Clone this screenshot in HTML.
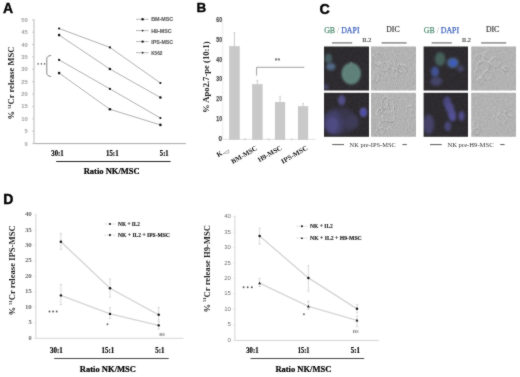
<!DOCTYPE html>
<html><head><meta charset="utf-8"><style>
html,body{margin:0;padding:0;background:#fff;}
body{width:520px;height:377px;overflow:hidden;}
svg{display:block;will-change:transform;}
</style></head><body>
<svg width="520" height="377" viewBox="0 0 520 377">
<filter id="soft" x="0" y="0" width="520" height="377" filterUnits="userSpaceOnUse" color-interpolation-filters="sRGB"><feConvolveMatrix order="3" kernelMatrix="1 2 1 2 20 2 1 2 1" divisor="32" edgeMode="duplicate"/></filter>
<g filter="url(#soft)">
<rect width="520" height="377" fill="#fff"/>
<text x="3.0" y="12.9" font-family="Liberation Sans" font-weight="bold" font-size="14" fill="#000" text-anchor="start" stroke="#000" stroke-width="0.35">A</text>
<line x1="34.0" y1="19.3" x2="34.0" y2="143.6" stroke="#c4c4c4" stroke-width="1.2"/>
<line x1="32.0" y1="143.6" x2="34.0" y2="143.6" stroke="#bbb" stroke-width="0.7"/>
<text x="27.9" y="145.6" font-family="Liberation Sans" font-weight="bold" font-size="5.8" fill="#a0a0a0" text-anchor="end" textLength="3.3" lengthAdjust="spacingAndGlyphs" >0</text>
<line x1="32.0" y1="131.22" x2="34.0" y2="131.22" stroke="#bbb" stroke-width="0.7"/>
<text x="27.9" y="133.22" font-family="Liberation Sans" font-weight="bold" font-size="5.8" fill="#a0a0a0" text-anchor="end" textLength="3.3" lengthAdjust="spacingAndGlyphs" >5</text>
<line x1="32.0" y1="118.84" x2="34.0" y2="118.84" stroke="#bbb" stroke-width="0.7"/>
<text x="27.9" y="120.84" font-family="Liberation Sans" font-weight="bold" font-size="5.8" fill="#a0a0a0" text-anchor="end" textLength="6.6" lengthAdjust="spacingAndGlyphs" >10</text>
<line x1="32.0" y1="106.46" x2="34.0" y2="106.46" stroke="#bbb" stroke-width="0.7"/>
<text x="27.9" y="108.46" font-family="Liberation Sans" font-weight="bold" font-size="5.8" fill="#a0a0a0" text-anchor="end" textLength="6.6" lengthAdjust="spacingAndGlyphs" >15</text>
<line x1="32.0" y1="94.08" x2="34.0" y2="94.08" stroke="#bbb" stroke-width="0.7"/>
<text x="27.9" y="96.08" font-family="Liberation Sans" font-weight="bold" font-size="5.8" fill="#a0a0a0" text-anchor="end" textLength="6.6" lengthAdjust="spacingAndGlyphs" >20</text>
<line x1="32.0" y1="81.69999999999999" x2="34.0" y2="81.69999999999999" stroke="#bbb" stroke-width="0.7"/>
<text x="27.9" y="83.69999999999999" font-family="Liberation Sans" font-weight="bold" font-size="5.8" fill="#a0a0a0" text-anchor="end" textLength="6.6" lengthAdjust="spacingAndGlyphs" >25</text>
<line x1="32.0" y1="69.32" x2="34.0" y2="69.32" stroke="#bbb" stroke-width="0.7"/>
<text x="27.9" y="71.32" font-family="Liberation Sans" font-weight="bold" font-size="5.8" fill="#a0a0a0" text-anchor="end" textLength="6.6" lengthAdjust="spacingAndGlyphs" >30</text>
<line x1="32.0" y1="56.94" x2="34.0" y2="56.94" stroke="#bbb" stroke-width="0.7"/>
<text x="27.9" y="58.94" font-family="Liberation Sans" font-weight="bold" font-size="5.8" fill="#a0a0a0" text-anchor="end" textLength="6.6" lengthAdjust="spacingAndGlyphs" >35</text>
<line x1="32.0" y1="44.56" x2="34.0" y2="44.56" stroke="#bbb" stroke-width="0.7"/>
<text x="27.9" y="46.56" font-family="Liberation Sans" font-weight="bold" font-size="5.8" fill="#a0a0a0" text-anchor="end" textLength="6.6" lengthAdjust="spacingAndGlyphs" >40</text>
<line x1="32.0" y1="32.17999999999999" x2="34.0" y2="32.17999999999999" stroke="#bbb" stroke-width="0.7"/>
<text x="27.9" y="34.17999999999999" font-family="Liberation Sans" font-weight="bold" font-size="5.8" fill="#a0a0a0" text-anchor="end" textLength="6.6" lengthAdjust="spacingAndGlyphs" >45</text>
<line x1="32.0" y1="19.799999999999997" x2="34.0" y2="19.799999999999997" stroke="#bbb" stroke-width="0.7"/>
<text x="27.9" y="21.799999999999997" font-family="Liberation Sans" font-weight="bold" font-size="5.8" fill="#a0a0a0" text-anchor="end" textLength="6.6" lengthAdjust="spacingAndGlyphs" >50</text>
<line x1="34.0" y1="143.6" x2="186" y2="143.6" stroke="#a8a8a8" stroke-width="1.0"/>
<polyline points="59.1,28.5 109.9,47.4 160.4,83.0" fill="none" stroke="#858585" stroke-width="0.65"/>
<polyline points="59.1,35.1 109.9,69.05 160.4,97.5" fill="none" stroke="#858585" stroke-width="0.65"/>
<polyline points="59.1,59.9 109.9,88.9 160.4,118.0" fill="none" stroke="#858585" stroke-width="0.65"/>
<polyline points="59.1,73.1 109.9,109.3 160.4,124.9" fill="none" stroke="#858585" stroke-width="0.65"/>
<circle cx="59.1" cy="28.5" r="1.1" fill="#111"/>
<circle cx="109.9" cy="47.4" r="1.1" fill="#111"/>
<circle cx="160.4" cy="83.0" r="1.1" fill="#111"/>
<circle cx="59.1" cy="35.1" r="1.3" fill="#111"/>
<circle cx="109.9" cy="69.05" r="1.3" fill="#111"/>
<circle cx="160.4" cy="97.5" r="1.3" fill="#111"/>
<circle cx="59.1" cy="59.9" r="1.1" fill="#111"/>
<circle cx="109.9" cy="88.9" r="1.1" fill="#111"/>
<circle cx="160.4" cy="118.0" r="1.1" fill="#111"/>
<circle cx="59.1" cy="73.1" r="1.3" fill="#111"/>
<circle cx="109.9" cy="109.3" r="1.3" fill="#111"/>
<circle cx="160.4" cy="124.9" r="1.3" fill="#111"/>
<circle cx="38.1" cy="63.9" r="0.8" fill="#606060"/>
<circle cx="41.4" cy="63.9" r="0.8" fill="#606060"/>
<circle cx="44.6" cy="63.9" r="0.8" fill="#606060"/>
<path d="M51.2,55.5 Q46.8,55.6 46.8,59 L46.8,73 Q46.8,76.3 51.2,76.4" fill="none" stroke="#707070" stroke-width="0.85"/>
<line x1="136" y1="19.3" x2="148.6" y2="19.3" stroke="#888" stroke-width="0.6"/>
<circle cx="142.6" cy="19.3" r="1.2" fill="#111"/>
<text x="151.2" y="21.2" font-family="Liberation Sans" font-weight="bold" font-size="5.3" fill="#5a5a5a" text-anchor="start" textLength="22" lengthAdjust="spacingAndGlyphs" stroke="#5a5a5a" stroke-width="0.12">BM-MSC</text>
<line x1="136" y1="30.6" x2="148.6" y2="30.6" stroke="#888" stroke-width="0.6"/>
<circle cx="142.6" cy="30.6" r="0.9" fill="#111"/>
<text x="151.2" y="32.5" font-family="Liberation Sans" font-weight="bold" font-size="5.3" fill="#5a5a5a" text-anchor="start" textLength="20.5" lengthAdjust="spacingAndGlyphs" stroke="#5a5a5a" stroke-width="0.12">H9-MSC</text>
<line x1="136" y1="41.6" x2="148.6" y2="41.6" stroke="#888" stroke-width="0.6"/>
<circle cx="142.6" cy="41.6" r="1.2" fill="#111"/>
<text x="151.2" y="43.5" font-family="Liberation Sans" font-weight="bold" font-size="5.3" fill="#5a5a5a" text-anchor="start" textLength="22" lengthAdjust="spacingAndGlyphs" stroke="#5a5a5a" stroke-width="0.12">IPS-MSC</text>
<line x1="136" y1="52.7" x2="148.6" y2="52.7" stroke="#888" stroke-width="0.6"/>
<circle cx="142.6" cy="52.7" r="0.9" fill="#111"/>
<text x="151.2" y="54.6" font-family="Liberation Sans" font-weight="bold" font-size="5.3" fill="#5a5a5a" text-anchor="start" textLength="11.3" lengthAdjust="spacingAndGlyphs" stroke="#5a5a5a" stroke-width="0.12">K562</text>
<text x="51.3" y="155.7" font-family="Liberation Serif" font-weight="bold" font-size="7.8" fill="#000" text-anchor="start" textLength="12.4" lengthAdjust="spacingAndGlyphs" stroke="#000" stroke-width="0.2">30:1</text>
<text x="106.0" y="155.7" font-family="Liberation Serif" font-weight="bold" font-size="7.8" fill="#000" text-anchor="start" textLength="12.6" lengthAdjust="spacingAndGlyphs" stroke="#000" stroke-width="0.2">15:1</text>
<text x="159.8" y="155.7" font-family="Liberation Serif" font-weight="bold" font-size="7.8" fill="#000" text-anchor="start" textLength="8.9" lengthAdjust="spacingAndGlyphs" stroke="#000" stroke-width="0.2">5:1</text>
<line x1="56.2" y1="161.5" x2="170.6" y2="161.5" stroke="#222" stroke-width="1.0"/>
<text x="83.7" y="174.0" font-family="Liberation Serif" font-weight="bold" font-size="8.5" fill="#000" text-anchor="start" textLength="56" lengthAdjust="spacingAndGlyphs" stroke="#000" stroke-width="0.2">Ratio NK/MSC</text>
<text x="0" y="0" font-family="Liberation Serif" font-weight="bold" font-size="8.6" fill="#1a1a1a" text-anchor="middle" transform="translate(14.3,83.0) rotate(-90)" textLength="73" lengthAdjust="spacingAndGlyphs">% <tspan font-size="4.4" dy="-3.4">51</tspan><tspan dy="3.4">Cr release MSC</tspan></text>
<text x="196.5" y="12.0" font-family="Liberation Sans" font-weight="bold" font-size="13.5" fill="#000" text-anchor="start" stroke="#000" stroke-width="0.35">B</text>
<line x1="222.8" y1="19" x2="222.8" y2="139.3" stroke="#ececec" stroke-width="1.0"/>
<text x="222.0" y="140.70000000000002" font-family="Liberation Sans" font-weight="bold" font-size="7.6" fill="#505050" text-anchor="end" textLength="3.6" lengthAdjust="spacingAndGlyphs" stroke="#505050" stroke-width="0.25">0</text>
<text x="222.0" y="120.95000000000002" font-family="Liberation Sans" font-weight="bold" font-size="7.6" fill="#505050" text-anchor="end" textLength="5.7" lengthAdjust="spacingAndGlyphs" stroke="#505050" stroke-width="0.25">10</text>
<text x="222.0" y="101.20000000000002" font-family="Liberation Sans" font-weight="bold" font-size="7.6" fill="#505050" text-anchor="end" textLength="5.7" lengthAdjust="spacingAndGlyphs" stroke="#505050" stroke-width="0.25">20</text>
<text x="222.0" y="81.45000000000002" font-family="Liberation Sans" font-weight="bold" font-size="7.6" fill="#505050" text-anchor="end" textLength="5.7" lengthAdjust="spacingAndGlyphs" stroke="#505050" stroke-width="0.25">30</text>
<text x="222.0" y="61.70000000000001" font-family="Liberation Sans" font-weight="bold" font-size="7.6" fill="#505050" text-anchor="end" textLength="5.7" lengthAdjust="spacingAndGlyphs" stroke="#505050" stroke-width="0.25">40</text>
<text x="222.0" y="41.95000000000001" font-family="Liberation Sans" font-weight="bold" font-size="7.6" fill="#505050" text-anchor="end" textLength="5.7" lengthAdjust="spacingAndGlyphs" stroke="#505050" stroke-width="0.25">50</text>
<text x="222.0" y="22.20000000000001" font-family="Liberation Sans" font-weight="bold" font-size="7.6" fill="#505050" text-anchor="end" textLength="5.7" lengthAdjust="spacingAndGlyphs" stroke="#505050" stroke-width="0.25">60</text>
<line x1="222.8" y1="139.3" x2="315.5" y2="139.3" stroke="#e2e2e2" stroke-width="1.0"/>
<rect x="229.6" y="46.5" width="9.7" height="92.80000000000001" fill="#c9c9c9" stroke="#bcbcbc" stroke-width="0.5"/>
<line x1="234.45" y1="32.5" x2="234.45" y2="46.5" stroke="#b4b4b4" stroke-width="0.7"/>
<line x1="233.5" y1="32.5" x2="235.4" y2="32.5" stroke="#c0c0c0" stroke-width="0.6"/>
<rect x="252.5" y="84.6" width="9.7" height="54.70000000000002" fill="#c9c9c9" stroke="#bcbcbc" stroke-width="0.5"/>
<line x1="257.35" y1="80.4" x2="257.35" y2="84.6" stroke="#b4b4b4" stroke-width="0.7"/>
<line x1="256.4" y1="80.4" x2="258.3" y2="80.4" stroke="#c0c0c0" stroke-width="0.6"/>
<rect x="275.2" y="102.3" width="9.7" height="37.000000000000014" fill="#c9c9c9" stroke="#bcbcbc" stroke-width="0.5"/>
<line x1="280.05" y1="96.3" x2="280.05" y2="102.3" stroke="#b4b4b4" stroke-width="0.7"/>
<line x1="279.09999999999997" y1="96.3" x2="281.0" y2="96.3" stroke="#c0c0c0" stroke-width="0.6"/>
<rect x="298.2" y="106.6" width="9.7" height="32.70000000000002" fill="#c9c9c9" stroke="#bcbcbc" stroke-width="0.5"/>
<line x1="303.05" y1="103.5" x2="303.05" y2="106.6" stroke="#b4b4b4" stroke-width="0.7"/>
<line x1="302.09999999999997" y1="103.5" x2="304.0" y2="103.5" stroke="#c0c0c0" stroke-width="0.6"/>
<line x1="244" y1="139.3" x2="246" y2="139.3" stroke="#b0b0b0" stroke-width="0.8"/>
<line x1="267.5" y1="139.3" x2="269.5" y2="139.3" stroke="#b0b0b0" stroke-width="0.8"/>
<line x1="290.7" y1="139.3" x2="292.7" y2="139.3" stroke="#b0b0b0" stroke-width="0.8"/>
<path d="M256.6,75.5 L256.6,67.3 L304.3,67.3" fill="none" stroke="#888" stroke-width="0.8"/>
<text x="277.4" y="63.3" font-family="Liberation Sans" font-weight="bold" font-size="6.8" fill="#666" text-anchor="middle" >**</text>
<text x="0" y="0" font-family="Liberation Serif" font-weight="bold" font-size="7.6" fill="#222" text-anchor="middle" transform="translate(208.8,77.2) rotate(-90)" textLength="71.5" lengthAdjust="spacingAndGlyphs">% Apo2.7-pe (10:1)</text>
<text x="0" y="0" font-family="Liberation Serif" font-weight="bold" font-size="7" fill="#111" text-anchor="end" transform="translate(222.9,154.6) rotate(-30)">K</text>
<path d="M223.2,153.6 L228.6,149.9 L228.8,153.0 Z" fill="none" stroke="#999" stroke-width="0.7" filter="url(#bl05)"/>
<text x="0" y="0" font-family="Liberation Serif" font-weight="bold" font-size="7" fill="#111" text-anchor="end" transform="translate(257.7,149.6) rotate(-30)" textLength="28.8" lengthAdjust="spacingAndGlyphs">BM-MSC</text>
<text x="0" y="0" font-family="Liberation Serif" font-weight="bold" font-size="7" fill="#111" text-anchor="end" transform="translate(282.2,149.2) rotate(-30)" textLength="26.2" lengthAdjust="spacingAndGlyphs">H9-MSC</text>
<text x="0" y="0" font-family="Liberation Serif" font-weight="bold" font-size="7" fill="#111" text-anchor="end" transform="translate(308.3,149.2) rotate(-30)" textLength="29.5" lengthAdjust="spacingAndGlyphs">IPS-MSC</text>
<text x="319.4" y="14.3" font-family="Liberation Sans" font-weight="bold" font-size="14.2" fill="#000" text-anchor="start" stroke="#000" stroke-width="0.4">C</text>
<defs>
<filter id="bl1" x="-50%" y="-50%" width="200%" height="200%"><feGaussianBlur stdDeviation="0.9"/></filter>
<filter id="bl2" x="-50%" y="-50%" width="200%" height="200%"><feGaussianBlur stdDeviation="1.6"/></filter>
<filter id="bl05" x="-50%" y="-50%" width="200%" height="200%"><feGaussianBlur stdDeviation="0.45"/></filter>
<filter id="noise" x="0" y="0" width="100%" height="100%" color-interpolation-filters="sRGB">
 <feTurbulence type="fractalNoise" baseFrequency="0.9" numOctaves="2" seed="3"/>
 <feColorMatrix type="matrix" values="0.2 0 0 0 0.6  0.2 0 0 0 0.6  0.2 0 0 0 0.6  0 0 0 0 1"/>
</filter>
<filter id="noiseD" x="0" y="0" width="100%" height="100%" color-interpolation-filters="sRGB">
 <feTurbulence type="fractalNoise" baseFrequency="0.6" numOctaves="2" seed="7"/>
 <feColorMatrix type="matrix" values="0.1 0 0 0 0.13  0.1 0 0 0 0.12  0.1 0 0 0 0.135  0 0 0 0 1"/>
</filter>
<filter id="wob" x="-10%" y="-10%" width="120%" height="120%">
 <feTurbulence type="turbulence" baseFrequency="0.35" numOctaves="2" seed="11" result="t"/>
 <feDisplacementMap in="SourceGraphic" in2="t" scale="1.4" xChannelSelector="R" yChannelSelector="G" result="d"/>
 <feGaussianBlur in="d" stdDeviation="0.4"/>
</filter>
<radialGradient id="gcell" cx="50%" cy="50%" r="50%"><stop offset="0" stop-color="#5c8276"/><stop offset="0.8" stop-color="#5f8578"/><stop offset="1" stop-color="#5f8578" stop-opacity="0.5"/></radialGradient>
</defs>
<text x="324.2" y="32.5" font-family="Liberation Serif" font-size="8" stroke-width="0.25" textLength="35.3" lengthAdjust="spacingAndGlyphs"><tspan fill="#4f8e72" stroke="#4f8e72">GB</tspan><tspan fill="#a0a0a0"> / </tspan><tspan fill="#3d62bc" stroke="#3d62bc">DAPI</tspan></text>
<text x="386.3" y="32.1" font-family="Liberation Serif" font-size="8" fill="#333" text-anchor="start" textLength="13.3" lengthAdjust="spacingAndGlyphs" stroke="#333" stroke-width="0.2">DIC</text>
<text x="362.3" y="41.9" font-family="Liberation Serif" font-size="6.6" fill="#333" text-anchor="start" textLength="9.0" lengthAdjust="spacingAndGlyphs" stroke="#333" stroke-width="0.15">IL2</text>
<line x1="332" y1="42.9" x2="352.2" y2="42.9" stroke="#8a8a8a" stroke-width="1.5"/>
<line x1="381.6" y1="42.9" x2="406.6" y2="42.9" stroke="#8a8a8a" stroke-width="1.5"/>
<line x1="332.2" y1="144.6" x2="344" y2="144.6" stroke="#444" stroke-width="0.9"/>
<text x="349.6" y="147.2" font-family="Liberation Serif" font-size="7.0" fill="#333" text-anchor="start" textLength="46.2" lengthAdjust="spacingAndGlyphs" >NK pre-IPS-MSC</text>
<line x1="402.4" y1="144.6" x2="406.8" y2="144.6" stroke="#444" stroke-width="0.9"/>
<text x="423.8" y="32.5" font-family="Liberation Serif" font-size="8" stroke-width="0.25" textLength="35.3" lengthAdjust="spacingAndGlyphs"><tspan fill="#4f8e72" stroke="#4f8e72">GB</tspan><tspan fill="#a0a0a0"> / </tspan><tspan fill="#3d62bc" stroke="#3d62bc">DAPI</tspan></text>
<text x="485.90000000000003" y="32.1" font-family="Liberation Serif" font-size="8" fill="#333" text-anchor="start" textLength="13.3" lengthAdjust="spacingAndGlyphs" stroke="#333" stroke-width="0.2">DIC</text>
<text x="461.90000000000003" y="41.9" font-family="Liberation Serif" font-size="6.6" fill="#333" text-anchor="start" textLength="9.0" lengthAdjust="spacingAndGlyphs" stroke="#333" stroke-width="0.15">IL2</text>
<line x1="431.6" y1="42.9" x2="451.8" y2="42.9" stroke="#8a8a8a" stroke-width="1.5"/>
<line x1="481.20000000000005" y1="42.9" x2="506.20000000000005" y2="42.9" stroke="#8a8a8a" stroke-width="1.5"/>
<line x1="430.0" y1="144.6" x2="441.8" y2="144.6" stroke="#444" stroke-width="0.9"/>
<text x="447.40000000000003" y="147.2" font-family="Liberation Serif" font-size="7.0" fill="#333" text-anchor="start" textLength="46.2" lengthAdjust="spacingAndGlyphs" >NK pre-H9-MSC</text>
<line x1="500.20000000000005" y1="144.6" x2="504.6" y2="144.6" stroke="#444" stroke-width="0.9"/>
<svg x="324" y="46.5" width="44.2" height="43.8" viewBox="0 0 44.2 43.8" overflow="hidden">
<rect width="44.2" height="43.8" filter="url(#noiseD)"/>
<ellipse cx="27.2" cy="27.2" rx="9.6" ry="10.8" fill="#648880" opacity="1" filter="url(#bl1)"/>
<ellipse cx="27.2" cy="27.2" rx="7.8" ry="9.0" fill="#5e8179" opacity="1" filter="url(#bl1)"/>
<ellipse cx="27.0" cy="16.8" rx="1.5" ry="1.5" fill="#62807a" opacity="0.8" filter="url(#bl05)"/>
<ellipse cx="4.4" cy="12.0" rx="3.6" ry="5.0" fill="#4a6468" opacity="0.9" filter="url(#bl1)"/>
<ellipse cx="6.9" cy="20.2" rx="4.5" ry="3.6" fill="#526c8c" opacity="0.95" filter="url(#bl1)"/>
<ellipse cx="1.8" cy="40.5" rx="3.0" ry="3.0" fill="#4a486c" opacity="0.8" filter="url(#bl1)"/>
</svg>
<svg x="324" y="92.8" width="44.2" height="43.7" viewBox="0 0 44.2 43.7" overflow="hidden">
<rect width="44.2" height="43.7" filter="url(#noiseD)"/>
<ellipse cx="16.0" cy="28.0" rx="17.0" ry="14.0" fill="#3c3a56" opacity="0.6" filter="url(#bl2)"/>
<ellipse cx="17.7" cy="7.4" rx="3.7" ry="5.2" fill="#565392" opacity="0.9" filter="url(#bl1)"/>
<ellipse cx="39.4" cy="19.5" rx="3.8" ry="4.8" fill="#5754a0" opacity="1" filter="url(#bl1)"/>
<ellipse cx="39.6" cy="19.9" rx="1.6" ry="2.0" fill="#4c4ab2" opacity="1" filter="url(#bl05)"/>
<ellipse cx="10.0" cy="30.0" rx="10.5" ry="12.0" fill="#45426e" opacity="0.85" filter="url(#bl2)"/>
<ellipse cx="8.5" cy="32.0" rx="6.0" ry="8.0" fill="#53508c" opacity="0.75" filter="url(#bl2)"/>
<ellipse cx="27.2" cy="29.0" rx="8.0" ry="7.5" fill="#403d5c" opacity="0.8" filter="url(#bl2)"/>
<ellipse cx="20.2" cy="22.2" rx="5.0" ry="5.0" fill="#3b394f" opacity="0.7" filter="url(#bl2)"/>
</svg>
<svg x="371" y="46.5" width="45.0" height="43.8" viewBox="0 0 45.0 43.8" overflow="hidden">
<rect width="45.0" height="43.8" filter="url(#noise)"/>
<g filter="url(#wob)">
<ellipse cx="5.6" cy="11.6" rx="5" ry="6" transform="rotate(20 6 12)" fill="none" stroke="#d0d0d0" stroke-width="0.8"/>
<ellipse cx="6.4" cy="12.4" rx="5" ry="6" transform="rotate(20 6 12)" fill="none" stroke="#909090" stroke-width="0.6"/>
<ellipse cx="12.6" cy="19.6" rx="6" ry="4" transform="rotate(-10 13 20)" fill="none" stroke="#d0d0d0" stroke-width="0.8"/>
<ellipse cx="13.4" cy="20.4" rx="6" ry="4" transform="rotate(-10 13 20)" fill="none" stroke="#909090" stroke-width="0.6"/>
<ellipse cx="23.6" cy="17.6" rx="6" ry="5" transform="rotate(0 24 18)" fill="none" stroke="#d0d0d0" stroke-width="0.8"/>
<ellipse cx="24.4" cy="18.4" rx="6" ry="5" transform="rotate(0 24 18)" fill="none" stroke="#909090" stroke-width="0.6"/>
<ellipse cx="30.6" cy="21.6" rx="5" ry="4" transform="rotate(30 31 22)" fill="none" stroke="#d0d0d0" stroke-width="0.8"/>
<ellipse cx="31.4" cy="22.4" rx="5" ry="4" transform="rotate(30 31 22)" fill="none" stroke="#909090" stroke-width="0.6"/>
<ellipse cx="21.6" cy="26.6" rx="5" ry="4" transform="rotate(0 22 27)" fill="none" stroke="#d0d0d0" stroke-width="0.8"/>
<ellipse cx="22.4" cy="27.4" rx="5" ry="4" transform="rotate(0 22 27)" fill="none" stroke="#909090" stroke-width="0.6"/>
<ellipse cx="4.6" cy="29.6" rx="3" ry="5" transform="rotate(0 5 30)" fill="none" stroke="#d0d0d0" stroke-width="0.8"/>
<ellipse cx="5.4" cy="30.4" rx="3" ry="5" transform="rotate(0 5 30)" fill="none" stroke="#909090" stroke-width="0.6"/>
</g>
</svg>
<svg x="371" y="92.8" width="45.0" height="43.7" viewBox="0 0 45.0 43.7" overflow="hidden">
<rect width="45.0" height="43.7" filter="url(#noise)"/>
<g filter="url(#wob)">
<ellipse cx="13.6" cy="9.6" rx="3" ry="6" transform="rotate(10 14 10)" fill="none" stroke="#d0d0d0" stroke-width="0.8"/>
<ellipse cx="14.4" cy="10.4" rx="3" ry="6" transform="rotate(10 14 10)" fill="none" stroke="#909090" stroke-width="0.6"/>
<ellipse cx="19.6" cy="11.6" rx="3" ry="7" transform="rotate(-10 20 12)" fill="none" stroke="#d0d0d0" stroke-width="0.8"/>
<ellipse cx="20.4" cy="12.4" rx="3" ry="7" transform="rotate(-10 20 12)" fill="none" stroke="#909090" stroke-width="0.6"/>
<ellipse cx="8.6" cy="17.6" rx="4" ry="2" transform="rotate(-40 9 18)" fill="none" stroke="#d0d0d0" stroke-width="0.8"/>
<ellipse cx="9.4" cy="18.4" rx="4" ry="2" transform="rotate(-40 9 18)" fill="none" stroke="#909090" stroke-width="0.6"/>
<ellipse cx="17.6" cy="23.6" rx="6" ry="5" transform="rotate(0 18 24)" fill="none" stroke="#d0d0d0" stroke-width="0.8"/>
<ellipse cx="18.4" cy="24.4" rx="6" ry="5" transform="rotate(0 18 24)" fill="none" stroke="#909090" stroke-width="0.6"/>
<ellipse cx="14.6" cy="31.6" rx="7" ry="4" transform="rotate(0 15 32)" fill="none" stroke="#d0d0d0" stroke-width="0.8"/>
<ellipse cx="15.4" cy="32.4" rx="7" ry="4" transform="rotate(0 15 32)" fill="none" stroke="#909090" stroke-width="0.6"/>
<ellipse cx="38.6" cy="15.6" rx="3" ry="3" transform="rotate(0 39 16)" fill="none" stroke="#d0d0d0" stroke-width="0.8"/>
<ellipse cx="39.4" cy="16.4" rx="3" ry="3" transform="rotate(0 39 16)" fill="none" stroke="#909090" stroke-width="0.6"/>
<ellipse cx="9.6" cy="37.6" rx="4" ry="3" transform="rotate(0 10 38)" fill="none" stroke="#d0d0d0" stroke-width="0.8"/>
<ellipse cx="10.4" cy="38.4" rx="4" ry="3" transform="rotate(0 10 38)" fill="none" stroke="#909090" stroke-width="0.6"/>
</g>
</svg>
<svg x="423.6" y="46.5" width="44.2" height="43.8" viewBox="0 0 44.2 43.8" overflow="hidden">
<rect width="44.2" height="43.8" filter="url(#noiseD)"/>
<ellipse cx="16.5" cy="12.5" rx="5.2" ry="7.0" fill="#4a665f" opacity="0.9" filter="url(#bl1)"/>
<ellipse cx="29.2" cy="16.3" rx="6.0" ry="5.2" fill="#4d6890" opacity="0.9" filter="url(#bl1)"/>
<ellipse cx="29.5" cy="16.5" rx="3.4" ry="3.2" fill="#3d5cc4" opacity="1" filter="url(#bl1)"/>
<ellipse cx="36.9" cy="22.1" rx="3.4" ry="3.2" fill="#4a4a70" opacity="0.9" filter="url(#bl1)"/>
<ellipse cx="11.4" cy="25.3" rx="4.0" ry="5.2" fill="#44549a" opacity="0.95" filter="url(#bl1)"/>
<ellipse cx="12.7" cy="34.8" rx="6.0" ry="4.5" fill="#46466e" opacity="0.9" filter="url(#bl1)"/>
</svg>
<svg x="423.6" y="92.8" width="44.2" height="43.7" viewBox="0 0 44.2 43.7" overflow="hidden">
<rect width="44.2" height="43.7" filter="url(#noiseD)"/>
<ellipse cx="23.5" cy="9.0" rx="4.0" ry="5.5" fill="#4e4c84" opacity="0.9" filter="url(#bl1)"/>
<ellipse cx="26.0" cy="15.0" rx="4.5" ry="5.0" fill="#524f90" opacity="0.9" filter="url(#bl1)"/>
<ellipse cx="28.3" cy="21.5" rx="4.0" ry="5.0" fill="#545196" opacity="0.95" filter="url(#bl1)"/>
<ellipse cx="29.0" cy="25.0" rx="3.0" ry="3.5" fill="#56539c" opacity="0.9" filter="url(#bl1)"/>
<ellipse cx="37.9" cy="23.3" rx="3.0" ry="4.8" fill="#524f90" opacity="0.95" filter="url(#bl1)"/>
<ellipse cx="24.2" cy="33.5" rx="3.4" ry="5.0" fill="#4d4c80" opacity="0.9" filter="url(#bl1)"/>
<ellipse cx="5.0" cy="31.6" rx="5.5" ry="10.0" fill="#484674" opacity="0.85" filter="url(#bl2)"/>
</svg>
<svg x="471.2" y="46.5" width="44.6" height="43.8" viewBox="0 0 44.6 43.8" overflow="hidden">
<rect width="44.6" height="43.8" filter="url(#noise)"/>
<g filter="url(#wob)">
<ellipse cx="8.6" cy="11.6" rx="5" ry="4" transform="rotate(0 9 12)" fill="none" stroke="#d0d0d0" stroke-width="0.8"/>
<ellipse cx="9.4" cy="12.4" rx="5" ry="4" transform="rotate(0 9 12)" fill="none" stroke="#909090" stroke-width="0.6"/>
<ellipse cx="16.6" cy="9.6" rx="5" ry="6" transform="rotate(0 17 10)" fill="none" stroke="#d0d0d0" stroke-width="0.8"/>
<ellipse cx="17.4" cy="10.4" rx="5" ry="6" transform="rotate(0 17 10)" fill="none" stroke="#909090" stroke-width="0.6"/>
<ellipse cx="11.6" cy="19.6" rx="6" ry="5" transform="rotate(0 12 20)" fill="none" stroke="#d0d0d0" stroke-width="0.8"/>
<ellipse cx="12.4" cy="20.4" rx="6" ry="5" transform="rotate(0 12 20)" fill="none" stroke="#909090" stroke-width="0.6"/>
<ellipse cx="23.6" cy="15.6" rx="5" ry="5" transform="rotate(0 24 16)" fill="none" stroke="#d0d0d0" stroke-width="0.8"/>
<ellipse cx="24.4" cy="16.4" rx="5" ry="5" transform="rotate(0 24 16)" fill="none" stroke="#909090" stroke-width="0.6"/>
<ellipse cx="7.6" cy="26.6" rx="4" ry="4" transform="rotate(0 8 27)" fill="none" stroke="#d0d0d0" stroke-width="0.8"/>
<ellipse cx="8.4" cy="27.4" rx="4" ry="4" transform="rotate(0 8 27)" fill="none" stroke="#909090" stroke-width="0.6"/>
<ellipse cx="15.6" cy="28.6" rx="5" ry="4" transform="rotate(0 16 29)" fill="none" stroke="#d0d0d0" stroke-width="0.8"/>
<ellipse cx="16.4" cy="29.4" rx="5" ry="4" transform="rotate(0 16 29)" fill="none" stroke="#909090" stroke-width="0.6"/>
<ellipse cx="8.6" cy="33.6" rx="3" ry="3" transform="rotate(0 9 34)" fill="none" stroke="#d0d0d0" stroke-width="0.8"/>
<ellipse cx="9.4" cy="34.4" rx="3" ry="3" transform="rotate(0 9 34)" fill="none" stroke="#909090" stroke-width="0.6"/>
<ellipse cx="33.6" cy="21.6" rx="3" ry="2" transform="rotate(20 34 22)" fill="none" stroke="#d0d0d0" stroke-width="0.8"/>
<ellipse cx="34.4" cy="22.4" rx="3" ry="2" transform="rotate(20 34 22)" fill="none" stroke="#909090" stroke-width="0.6"/>
</g>
</svg>
<svg x="471.2" y="92.8" width="44.6" height="43.7" viewBox="0 0 44.6 43.7" overflow="hidden">
<rect width="44.6" height="43.7" filter="url(#noise)"/>
<g filter="url(#wob)">
<ellipse cx="4.6" cy="30.6" rx="3" ry="4" transform="rotate(0 5 31)" fill="none" stroke="#d0d0d0" stroke-width="0.8"/>
<ellipse cx="5.4" cy="31.4" rx="3" ry="4" transform="rotate(0 5 31)" fill="none" stroke="#909090" stroke-width="0.6"/>
<ellipse cx="4.6" cy="37.6" rx="4" ry="3" transform="rotate(0 5 38)" fill="none" stroke="#d0d0d0" stroke-width="0.8"/>
<ellipse cx="5.4" cy="38.4" rx="4" ry="3" transform="rotate(0 5 38)" fill="none" stroke="#909090" stroke-width="0.6"/>
<ellipse cx="30.6" cy="24.6" rx="5" ry="6" transform="rotate(0 31 25)" fill="none" stroke="#d0d0d0" stroke-width="0.8"/>
<ellipse cx="31.4" cy="25.4" rx="5" ry="6" transform="rotate(0 31 25)" fill="none" stroke="#909090" stroke-width="0.6"/>
<ellipse cx="36.6" cy="19.6" rx="3" ry="3" transform="rotate(0 37 20)" fill="none" stroke="#d0d0d0" stroke-width="0.8"/>
<ellipse cx="37.4" cy="20.4" rx="3" ry="3" transform="rotate(0 37 20)" fill="none" stroke="#909090" stroke-width="0.6"/>
</g>
</svg>
<text x="3.2" y="203.9" font-family="Liberation Sans" font-weight="bold" font-size="14" fill="#000" text-anchor="start" stroke="#000" stroke-width="0.4">D</text>
<line x1="35.9" y1="213.82" x2="35.9" y2="338.3" stroke="#d4d4d4" stroke-width="1.0"/>
<line x1="34.3" y1="338.3" x2="35.9" y2="338.3" stroke="#cccccc" stroke-width="0.6"/>
<text x="31.799999999999997" y="339.6" font-family="Liberation Serif" font-weight="bold" font-size="5.8" fill="#6a6a6a" text-anchor="end" textLength="3.2" lengthAdjust="spacingAndGlyphs" >0</text>
<line x1="34.3" y1="322.865" x2="35.9" y2="322.865" stroke="#cccccc" stroke-width="0.6"/>
<text x="31.799999999999997" y="324.165" font-family="Liberation Serif" font-weight="bold" font-size="5.8" fill="#6a6a6a" text-anchor="end" textLength="3.2" lengthAdjust="spacingAndGlyphs" >5</text>
<line x1="34.3" y1="307.43" x2="35.9" y2="307.43" stroke="#cccccc" stroke-width="0.6"/>
<text x="31.799999999999997" y="308.73" font-family="Liberation Serif" font-weight="bold" font-size="5.8" fill="#6a6a6a" text-anchor="end" textLength="6.9" lengthAdjust="spacingAndGlyphs" >10</text>
<line x1="34.3" y1="291.995" x2="35.9" y2="291.995" stroke="#cccccc" stroke-width="0.6"/>
<text x="31.799999999999997" y="293.295" font-family="Liberation Serif" font-weight="bold" font-size="5.8" fill="#6a6a6a" text-anchor="end" textLength="6.9" lengthAdjust="spacingAndGlyphs" >15</text>
<line x1="34.3" y1="276.56" x2="35.9" y2="276.56" stroke="#cccccc" stroke-width="0.6"/>
<text x="31.799999999999997" y="277.86" font-family="Liberation Serif" font-weight="bold" font-size="5.8" fill="#6a6a6a" text-anchor="end" textLength="6.9" lengthAdjust="spacingAndGlyphs" >20</text>
<line x1="34.3" y1="261.125" x2="35.9" y2="261.125" stroke="#cccccc" stroke-width="0.6"/>
<text x="31.799999999999997" y="262.425" font-family="Liberation Serif" font-weight="bold" font-size="5.8" fill="#6a6a6a" text-anchor="end" textLength="6.9" lengthAdjust="spacingAndGlyphs" >25</text>
<line x1="34.3" y1="245.69" x2="35.9" y2="245.69" stroke="#cccccc" stroke-width="0.6"/>
<text x="31.799999999999997" y="246.99" font-family="Liberation Serif" font-weight="bold" font-size="5.8" fill="#6a6a6a" text-anchor="end" textLength="6.9" lengthAdjust="spacingAndGlyphs" >30</text>
<line x1="34.3" y1="230.255" x2="35.9" y2="230.255" stroke="#cccccc" stroke-width="0.6"/>
<text x="31.799999999999997" y="231.555" font-family="Liberation Serif" font-weight="bold" font-size="5.8" fill="#6a6a6a" text-anchor="end" textLength="6.9" lengthAdjust="spacingAndGlyphs" >35</text>
<line x1="34.3" y1="214.82" x2="35.9" y2="214.82" stroke="#cccccc" stroke-width="0.6"/>
<text x="31.799999999999997" y="216.12" font-family="Liberation Serif" font-weight="bold" font-size="5.8" fill="#6a6a6a" text-anchor="end" textLength="6.9" lengthAdjust="spacingAndGlyphs" >40</text>
<line x1="35.9" y1="338.3" x2="183.5" y2="338.3" stroke="#d4d4d4" stroke-width="1.0"/>
<polyline points="60.9,241.68 110,288.29 158.7,314.84" fill="none" stroke="#d4d4d4" stroke-width="1.3"/>
<polyline points="60.9,295.39 110,313.91 158.7,325.33" fill="none" stroke="#d4d4d4" stroke-width="1.3"/>
<line x1="60.9" y1="233.4" x2="60.9" y2="249.4" stroke="#d2d2d2" stroke-width="0.8"/>
<line x1="59.699999999999996" y1="233.4" x2="62.1" y2="233.4" stroke="#c8c8c8" stroke-width="0.7"/>
<line x1="59.699999999999996" y1="249.4" x2="62.1" y2="249.4" stroke="#c8c8c8" stroke-width="0.7"/>
<line x1="110" y1="279" x2="110" y2="297" stroke="#d2d2d2" stroke-width="0.8"/>
<line x1="108.8" y1="279" x2="111.2" y2="279" stroke="#c8c8c8" stroke-width="0.7"/>
<line x1="108.8" y1="297" x2="111.2" y2="297" stroke="#c8c8c8" stroke-width="0.7"/>
<line x1="158.7" y1="307.5" x2="158.7" y2="320" stroke="#d2d2d2" stroke-width="0.8"/>
<line x1="157.5" y1="307.5" x2="159.89999999999998" y2="307.5" stroke="#c8c8c8" stroke-width="0.7"/>
<line x1="157.5" y1="320" x2="159.89999999999998" y2="320" stroke="#c8c8c8" stroke-width="0.7"/>
<line x1="60.9" y1="284.6" x2="60.9" y2="304.6" stroke="#d2d2d2" stroke-width="0.8"/>
<line x1="59.699999999999996" y1="284.6" x2="62.1" y2="284.6" stroke="#c8c8c8" stroke-width="0.7"/>
<line x1="59.699999999999996" y1="304.6" x2="62.1" y2="304.6" stroke="#c8c8c8" stroke-width="0.7"/>
<line x1="110" y1="307.7" x2="110" y2="318.5" stroke="#d2d2d2" stroke-width="0.8"/>
<line x1="108.8" y1="307.7" x2="111.2" y2="307.7" stroke="#c8c8c8" stroke-width="0.7"/>
<line x1="108.8" y1="318.5" x2="111.2" y2="318.5" stroke="#c8c8c8" stroke-width="0.7"/>
<line x1="158.7" y1="321.5" x2="158.7" y2="329" stroke="#d2d2d2" stroke-width="0.8"/>
<line x1="157.5" y1="321.5" x2="159.89999999999998" y2="321.5" stroke="#c8c8c8" stroke-width="0.7"/>
<line x1="157.5" y1="329" x2="159.89999999999998" y2="329" stroke="#c8c8c8" stroke-width="0.7"/>
<circle cx="60.9" cy="241.68" r="1.25" fill="#111"/>
<circle cx="110" cy="288.29" r="1.25" fill="#111"/>
<circle cx="158.7" cy="314.84" r="1.25" fill="#111"/>
<circle cx="60.9" cy="295.39" r="1.2" fill="#111"/>
<circle cx="110" cy="313.91" r="1.2" fill="#111"/>
<circle cx="158.7" cy="325.33" r="1.2" fill="#111"/>
<line x1="103.9" y1="224.0" x2="115.9" y2="224.0" stroke="#d0d0d0" stroke-width="0.6"/>
<circle cx="109.9" cy="224.0" r="1.05" fill="#111"/>
<text x="118.10000000000001" y="225.9" font-family="Liberation Serif" font-weight="bold" font-size="5.6" fill="#222" text-anchor="start" textLength="21.9" lengthAdjust="spacingAndGlyphs" stroke="#222" stroke-width="0.15">NK + IL2</text>
<line x1="103.9" y1="235.1" x2="115.9" y2="235.1" stroke="#d0d0d0" stroke-width="0.6"/>
<circle cx="109.9" cy="235.1" r="1.05" fill="#111"/>
<text x="118.10000000000001" y="237.0" font-family="Liberation Serif" font-weight="bold" font-size="5.6" fill="#222" text-anchor="start" textLength="51.8" lengthAdjust="spacingAndGlyphs" stroke="#222" stroke-width="0.15">NK + IL2 + IPS-MSC</text>
<text x="0" y="0" font-family="Liberation Serif" font-weight="bold" font-size="8.6" fill="#1a1a1a" text-anchor="middle" transform="translate(15.0,270.4) rotate(-90)" textLength="90.3" lengthAdjust="spacingAndGlyphs">% <tspan font-size="4.4" dy="-3.4">51</tspan><tspan dy="3.4">Cr release IPS-MSC</tspan></text>
<circle cx="49.5" cy="311.5" r="0.95" fill="#555"/>
<circle cx="53.1" cy="311.5" r="0.95" fill="#555"/>
<circle cx="56.7" cy="311.5" r="0.95" fill="#555"/>
<circle cx="107.5" cy="324.3" r="0.95" fill="#666"/>
<text x="159.2" y="335.7" font-family="Liberation Serif" font-weight="bold" font-size="6.2" fill="#808080" text-anchor="start" textLength="5.8" lengthAdjust="spacingAndGlyphs" >ns</text>
<text x="50.0" y="353.0" font-family="Liberation Serif" font-weight="bold" font-size="7.6" fill="#000" text-anchor="start" textLength="12.8" lengthAdjust="spacingAndGlyphs" stroke="#000" stroke-width="0.2">30:1</text>
<text x="101.5" y="353.0" font-family="Liberation Serif" font-weight="bold" font-size="7.6" fill="#000" text-anchor="start" textLength="12.7" lengthAdjust="spacingAndGlyphs" stroke="#000" stroke-width="0.2">15:1</text>
<text x="155.2" y="353.0" font-family="Liberation Serif" font-weight="bold" font-size="7.6" fill="#000" text-anchor="start" textLength="9.2" lengthAdjust="spacingAndGlyphs" stroke="#000" stroke-width="0.2">5:1</text>
<line x1="54.2" y1="358.5" x2="168.7" y2="358.5" stroke="#333" stroke-width="0.9"/>
<text x="79.8" y="371.9" font-family="Liberation Serif" font-weight="bold" font-size="8.5" fill="#000" text-anchor="start" textLength="56.2" lengthAdjust="spacingAndGlyphs" stroke="#000" stroke-width="0.2">Ratio NK/MSC</text>
<line x1="234.9" y1="215.59999999999997" x2="234.9" y2="340.4" stroke="#d4d4d4" stroke-width="1.0"/>
<line x1="233.3" y1="340.4" x2="234.9" y2="340.4" stroke="#cccccc" stroke-width="0.6"/>
<text x="230.9" y="341.9" font-family="Liberation Sans" font-size="6.0" fill="#707070" text-anchor="end" textLength="3.4" lengthAdjust="spacingAndGlyphs" >0</text>
<line x1="233.3" y1="324.92499999999995" x2="234.9" y2="324.92499999999995" stroke="#cccccc" stroke-width="0.6"/>
<text x="230.9" y="326.42499999999995" font-family="Liberation Sans" font-size="6.0" fill="#707070" text-anchor="end" textLength="3.4" lengthAdjust="spacingAndGlyphs" >5</text>
<line x1="233.3" y1="309.45" x2="234.9" y2="309.45" stroke="#cccccc" stroke-width="0.6"/>
<text x="230.9" y="310.95" font-family="Liberation Sans" font-size="6.0" fill="#707070" text-anchor="end" textLength="6.7" lengthAdjust="spacingAndGlyphs" >10</text>
<line x1="233.3" y1="293.97499999999997" x2="234.9" y2="293.97499999999997" stroke="#cccccc" stroke-width="0.6"/>
<text x="230.9" y="295.47499999999997" font-family="Liberation Sans" font-size="6.0" fill="#707070" text-anchor="end" textLength="6.7" lengthAdjust="spacingAndGlyphs" >15</text>
<line x1="233.3" y1="278.5" x2="234.9" y2="278.5" stroke="#cccccc" stroke-width="0.6"/>
<text x="230.9" y="280.0" font-family="Liberation Sans" font-size="6.0" fill="#707070" text-anchor="end" textLength="6.7" lengthAdjust="spacingAndGlyphs" >20</text>
<line x1="233.3" y1="263.025" x2="234.9" y2="263.025" stroke="#cccccc" stroke-width="0.6"/>
<text x="230.9" y="264.525" font-family="Liberation Sans" font-size="6.0" fill="#707070" text-anchor="end" textLength="6.7" lengthAdjust="spacingAndGlyphs" >25</text>
<line x1="233.3" y1="247.54999999999995" x2="234.9" y2="247.54999999999995" stroke="#cccccc" stroke-width="0.6"/>
<text x="230.9" y="249.04999999999995" font-family="Liberation Sans" font-size="6.0" fill="#707070" text-anchor="end" textLength="6.7" lengthAdjust="spacingAndGlyphs" >30</text>
<line x1="233.3" y1="232.075" x2="234.9" y2="232.075" stroke="#cccccc" stroke-width="0.6"/>
<text x="230.9" y="233.575" font-family="Liberation Sans" font-size="6.0" fill="#707070" text-anchor="end" textLength="6.7" lengthAdjust="spacingAndGlyphs" >35</text>
<line x1="233.3" y1="216.59999999999997" x2="234.9" y2="216.59999999999997" stroke="#cccccc" stroke-width="0.6"/>
<text x="230.9" y="218.09999999999997" font-family="Liberation Sans" font-size="6.0" fill="#707070" text-anchor="end" textLength="6.7" lengthAdjust="spacingAndGlyphs" >40</text>
<line x1="234.9" y1="340.4" x2="378.8" y2="340.4" stroke="#d4d4d4" stroke-width="1.0"/>
<polyline points="259.6,236.1 308.4,277.88 357,308.83" fill="none" stroke="#d4d4d4" stroke-width="1.3"/>
<polyline points="259.6,283.14 308.4,306.35 357,320.28" fill="none" stroke="#d4d4d4" stroke-width="1.3"/>
<line x1="259.6" y1="228.2" x2="259.6" y2="244.2" stroke="#d2d2d2" stroke-width="0.8"/>
<line x1="258.40000000000003" y1="228.2" x2="260.8" y2="228.2" stroke="#c8c8c8" stroke-width="0.7"/>
<line x1="258.40000000000003" y1="244.2" x2="260.8" y2="244.2" stroke="#c8c8c8" stroke-width="0.7"/>
<line x1="308.4" y1="265.6" x2="308.4" y2="291" stroke="#d2d2d2" stroke-width="0.8"/>
<line x1="307.2" y1="265.6" x2="309.59999999999997" y2="265.6" stroke="#c8c8c8" stroke-width="0.7"/>
<line x1="307.2" y1="291" x2="309.59999999999997" y2="291" stroke="#c8c8c8" stroke-width="0.7"/>
<line x1="357" y1="304.4" x2="357" y2="312.7" stroke="#d2d2d2" stroke-width="0.8"/>
<line x1="355.8" y1="304.4" x2="358.2" y2="304.4" stroke="#c8c8c8" stroke-width="0.7"/>
<line x1="355.8" y1="312.7" x2="358.2" y2="312.7" stroke="#c8c8c8" stroke-width="0.7"/>
<line x1="259.6" y1="278.5" x2="259.6" y2="286.5" stroke="#d2d2d2" stroke-width="0.8"/>
<line x1="258.40000000000003" y1="278.5" x2="260.8" y2="278.5" stroke="#c8c8c8" stroke-width="0.7"/>
<line x1="258.40000000000003" y1="286.5" x2="260.8" y2="286.5" stroke="#c8c8c8" stroke-width="0.7"/>
<line x1="308.4" y1="301.3" x2="308.4" y2="309.6" stroke="#d2d2d2" stroke-width="0.8"/>
<line x1="307.2" y1="301.3" x2="309.59999999999997" y2="301.3" stroke="#c8c8c8" stroke-width="0.7"/>
<line x1="307.2" y1="309.6" x2="309.59999999999997" y2="309.6" stroke="#c8c8c8" stroke-width="0.7"/>
<line x1="357" y1="316" x2="357" y2="326.7" stroke="#d2d2d2" stroke-width="0.8"/>
<line x1="355.8" y1="316" x2="358.2" y2="316" stroke="#c8c8c8" stroke-width="0.7"/>
<line x1="355.8" y1="326.7" x2="358.2" y2="326.7" stroke="#c8c8c8" stroke-width="0.7"/>
<circle cx="259.6" cy="236.1" r="1.25" fill="#111"/>
<circle cx="308.4" cy="277.88" r="1.25" fill="#111"/>
<circle cx="357" cy="308.83" r="1.25" fill="#111"/>
<polygon points="259.6,281.69 258.15000000000003,284.3 261.05,284.3" fill="#111"/>
<polygon points="308.4,304.90000000000003 306.95,307.51000000000005 309.84999999999997,307.51000000000005" fill="#111"/>
<polygon points="357,318.83 355.55,321.44 358.45,321.44" fill="#111"/>
<line x1="295.9" y1="226.2" x2="307.9" y2="226.2" stroke="#d0d0d0" stroke-width="0.6"/>
<circle cx="301.9" cy="226.2" r="1.05" fill="#111"/>
<text x="310.09999999999997" y="228.1" font-family="Liberation Serif" font-weight="bold" font-size="5.6" fill="#222" text-anchor="start" textLength="22.8" lengthAdjust="spacingAndGlyphs" stroke="#222" stroke-width="0.15">NK + IL2</text>
<line x1="295.9" y1="238.1" x2="307.9" y2="238.1" stroke="#d0d0d0" stroke-width="0.6"/>
<polygon points="301.9,236.95 300.75,239.01999999999998 303.04999999999995,239.01999999999998" fill="#111"/>
<text x="310.09999999999997" y="240.0" font-family="Liberation Serif" font-weight="bold" font-size="5.6" fill="#222" text-anchor="start" textLength="51.6" lengthAdjust="spacingAndGlyphs" stroke="#222" stroke-width="0.15">NK + IL2 + H9-MSC</text>
<text x="0" y="0" font-family="Liberation Serif" font-weight="bold" font-size="8.6" fill="#1a1a1a" text-anchor="middle" transform="translate(209.8,268.8) rotate(-90)" textLength="87.5" lengthAdjust="spacingAndGlyphs">% <tspan font-size="4.4" dy="-3.4">51</tspan><tspan dy="3.4">Cr release H9-MSC</tspan></text>
<circle cx="243.6" cy="287.2" r="0.95" fill="#555"/>
<circle cx="247.7" cy="287.2" r="0.95" fill="#555"/>
<circle cx="251.79999999999998" cy="287.2" r="0.95" fill="#555"/>
<circle cx="303.90000000000003" cy="314.3" r="0.95" fill="#666"/>
<text x="352.8" y="333.4" font-family="Liberation Serif" font-weight="bold" font-size="6.2" fill="#808080" text-anchor="start" textLength="5.8" lengthAdjust="spacingAndGlyphs" >ns</text>
<text x="246.2" y="353.0" font-family="Liberation Serif" font-weight="bold" font-size="7.6" fill="#000" text-anchor="start" textLength="12.3" lengthAdjust="spacingAndGlyphs" stroke="#000" stroke-width="0.2">30:1</text>
<text x="297.7" y="353.0" font-family="Liberation Serif" font-weight="bold" font-size="7.6" fill="#000" text-anchor="start" textLength="11.8" lengthAdjust="spacingAndGlyphs" stroke="#000" stroke-width="0.2">15:1</text>
<text x="350.8" y="353.0" font-family="Liberation Serif" font-weight="bold" font-size="7.6" fill="#000" text-anchor="start" textLength="9.3" lengthAdjust="spacingAndGlyphs" stroke="#000" stroke-width="0.2">5:1</text>
<line x1="250.5" y1="358.5" x2="364.2" y2="358.5" stroke="#333" stroke-width="0.9"/>
<text x="275.4" y="371.9" font-family="Liberation Serif" font-weight="bold" font-size="8.5" fill="#000" text-anchor="start" textLength="55.9" lengthAdjust="spacingAndGlyphs" stroke="#000" stroke-width="0.2">Ratio NK/MSC</text>
</g>
</svg>
</body></html>
